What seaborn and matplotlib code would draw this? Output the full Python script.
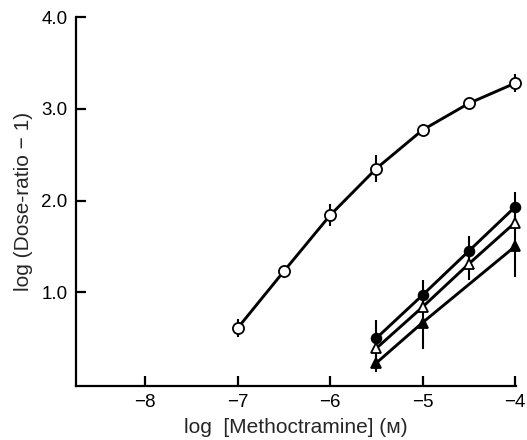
import numpy as np
import pandas as pd
import seaborn as sns
import matplotlib
matplotlib.use('Agg')
import matplotlib.pyplot as plt

# log [Methoctramine] (M)
x_open_circ = [-7.0, -6.5, -6.0, -5.5, -5.0, -4.5, -4.0]
y_open_circ = [0.61, 1.23, 1.84, 2.35, 2.77, 3.06, 3.28]
e_open_circ = [0.10, 0.0, 0.12, 0.15, 0.06, 0.06, 0.10]

x_fill_circ = [-5.5, -5.0, -4.5, -4.0]
y_fill_circ = [0.50, 0.97, 1.45, 1.93]
e_fill_circ = [0.20, 0.16, 0.16, 0.16]

x_open_tri = [-5.5, -5.0, -4.5, -4.0]
y_open_tri = [0.39, 0.84, 1.31, 1.76]
e_open_tri = [0.0, 0.0, 0.18, 0.0]

x_fill_tri = [-5.5, -5.0, -4.0]
y_fill_tri = [0.23, 0.67, 1.50]
e_fill_tri = [0.10, 0.29, 0.33]

xticks = [-8, -7, -6, -5, -4]
yticks = [1.0, 2.0, 3.0, 4.0]

sns.set_style('ticks')
plt.rcParams['font.family'] = ['Liberation Sans', 'DejaVu Sans']

fig = plt.figure(figsize=(5.27, 4.4), dpi=100)
ax = fig.add_axes([0.144, 0.123, 0.835, 0.838])

series = [
    (x_open_circ, y_open_circ, e_open_circ, 'o', 'white', 8),
    (x_fill_circ, y_fill_circ, e_fill_circ, 'o', 'black', 7),
    (x_open_tri, y_open_tri, e_open_tri, '^', 'white', 7),
    (x_fill_tri, y_fill_tri, e_fill_tri, '^', 'black', 7),
]

for xs, ys, es, mk, fc, ms in series:
    df = pd.DataFrame({'x': xs, 'y': ys})
    ax.errorbar(xs, ys, yerr=es, fmt='none', ecolor='black', elinewidth=1.5, capsize=0, zorder=2)
    sns.lineplot(data=df, x='x', y='y', ax=ax, color='black', linewidth=2.1,
                 marker=mk, markersize=ms, markerfacecolor=fc,
                 markeredgecolor='black', markeredgewidth=1.3, zorder=3)

# don't cut the markers at x = -4
for art in ax.lines + ax.collections:
    art.set_clip_on(False)

ax.set_xlim(-8.75, -3.99)
ax.set_ylim(-0.02, 4.0)
ax.set_xticks(xticks)
ax.set_xticklabels(['\u2212' + str(abs(t)) for t in xticks])
ax.set_yticks(yticks)
ax.set_yticklabels(['%.1f' % t for t in yticks])
ax.tick_params(direction='in', length=7, width=1.6, labelsize=13.5, pad=6, colors='black')
for s in ['top', 'right']:
    ax.spines[s].set_visible(False)
for s in ['left', 'bottom']:
    ax.spines[s].set_linewidth(1.6)
    ax.spines[s].set_color('black')

ax.set_xlabel('log  [Methoctramine] (\u1d0d)', fontsize=15, labelpad=5)
ax.set_ylabel('log (Dose-ratio \u2212 1)', fontsize=15, labelpad=6)

fig.savefig('out.png', dpi=100)
